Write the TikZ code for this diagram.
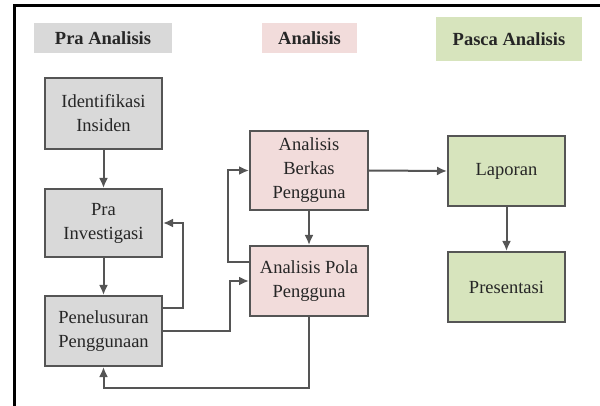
\documentclass[tikz,border=0pt]{standalone}
\usepackage{fontspec}
\setmainfont{Liberation Serif}[BoldFont={Liberation Serif Bold}]
\usetikzlibrary{arrows.meta}
\definecolor{gfill}{HTML}{D9D9D9}
\definecolor{pfill}{HTML}{F2DCDB}
\definecolor{vfill}{HTML}{D7E4BD}
\definecolor{bord}{HTML}{555555}
\definecolor{txt}{HTML}{262626}
\tikzset{
  box/.style={draw=bord, line width=2pt, align=center, inner sep=2pt, text=txt,
    font=\rmfamily\fontsize{18.5}{24}\selectfont},
  hdr/.style={draw=none, align=center, text=txt, font=\rmfamily\fontsize{18.5}{24}\selectfont\bfseries},
  arr/.style={draw=bord, line width=2pt, -{Latex[length=10pt,width=9pt]}}
}
\begin{document}
\begin{tikzpicture}[x=1pt,y=-1pt]
\useasboundingbox (0,0) rectangle (600,406);
\fill[white] (0,0) rectangle (600,406);
\draw[line width=3pt, black] (14,406) -- (14,6) -- (600,6);
% headers
\node[hdr, fill=gfill, minimum width=138pt, minimum height=30pt] (h1) at (103,38) {Pra Analisis};
\node[hdr, fill=pfill, minimum width=95pt, minimum height=30pt] (h2) at (309.5,38) {Analisis};
\node[hdr, fill=vfill, minimum width=146pt, minimum height=44pt] (h3) at (509,39) {Pasca Analisis};
% nodes
\node[box, fill=gfill, minimum width=117pt, minimum height=71pt] (id) at (103.5,113.5) {Identifikasi\\Insiden};
\node[box, fill=gfill, minimum width=117pt, minimum height=68pt] (pra) at (103.5,223) {Pra\\Investigasi};
\node[box, fill=gfill, minimum width=117pt, minimum height=70pt] (pen) at (103.5,331) {Penelusuran\\Penggunaan};
\node[box, fill=pfill, minimum width=118pt, minimum height=79pt] (ber) at (309,170.5) {Analisis\\Berkas\\Pengguna};
\node[box, fill=pfill, minimum width=118pt, minimum height=70pt] (pola) at (309,281) {Analisis Pola\\Pengguna};
\node[box, fill=vfill, minimum width=117pt, minimum height=70pt] (lap) at (506.5,171) {Laporan};
\node[box, fill=vfill, minimum width=117pt, minimum height=70pt] (pres) at (506.5,287) {Presentasi};
% connectors
\draw[arr] (id.south) -- (pra.north);
\draw[arr] (pra.south) -- (pen.north);
\draw[arr] ([yshift=23pt]pen.east) -- ++(20,0) |- (pra.east);
\draw[arr] (pen.east) -- ++(67,0) |- (pola.west);
\draw[arr] ([yshift=19pt]pola.west) -- ++(-21,0) |- (ber.west);
\draw[arr] (ber.south) -- (pola.north);
\draw[arr] (ber.east) -- (lap.west);
\draw[arr] (lap.south) -- (pres.north);
\draw[arr] (pola.south) -- ++(0,71) -| (pen.south);
\end{tikzpicture}
\end{document}
